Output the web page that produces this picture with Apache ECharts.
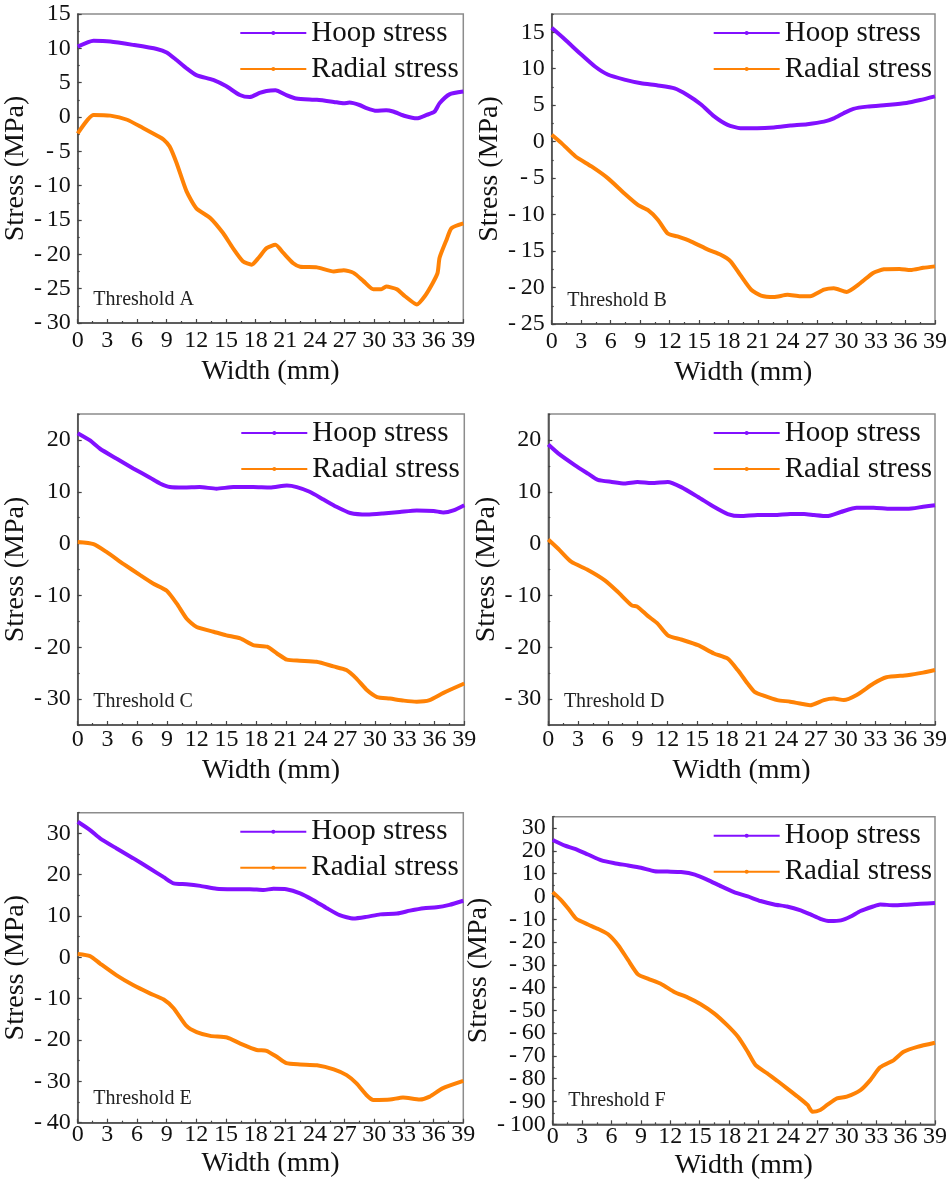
<!DOCTYPE html>
<html>
<head>
<meta charset="utf-8">
<script src="https://cdn.jsdelivr.net/npm/echarts@6/dist/echarts.min.js"></script>
<style>
  html, body { margin: 0; padding: 0; background: #fff; }
  #chart { width: 950px; height: 1186px; }
</style>
</head>
<body>
<div id="chart"></div>
<script>
// Stress profiles across the specimen width, [width (mm), stress (MPa)]
const hoopA = [[0,10.25],[1.6,11.1],[3.3,11.0],[5.6,10.5],[8,9.9],[9,9.4],[10,8.3],[11,7.1],[12,6.1],[13.7,5.4],[15,4.5],[16.4,3.2],[17.4,2.9],[18.4,3.5],[19.1,3.8],[20,3.9],[21.1,3.2],[22.1,2.7],[24.2,2.5],[25.9,2.2],[26.9,2.0],[27.5,2.1],[28.5,1.75],[29.2,1.3],[30.2,0.9],[31.2,1.0],[31.9,0.8],[33.1,0.15],[34.3,-0.2],[35.3,0.3],[36.1,0.8],[36.6,2.0],[37.6,3.3],[39,3.7]];
const radialA = [[0,-2.4],[1.6,0.3],[3.3,0.2],[5,-0.4],[6.6,-1.6],[8,-2.7],[8.7,-3.3],[9.3,-4.3],[10,-6.7],[11,-10.8],[12,-13.3],[13.4,-14.7],[14.7,-16.9],[15.7,-19.1],[16.7,-21.0],[17.6,-21.5],[18.3,-20.5],[19.1,-19.1],[20,-18.6],[20.8,-19.8],[21.8,-21.3],[22.5,-21.8],[24.2,-21.9],[25.9,-22.5],[26.9,-22.3],[27.9,-22.7],[28.9,-23.9],[29.9,-25.1],[30.7,-25.1],[31.2,-24.7],[32.3,-25.1],[33.1,-26.1],[34.3,-27.3],[35.1,-26.1],[35.9,-24.2],[36.4,-22.7],[36.6,-20.5],[37.3,-17.9],[37.8,-16.2],[39,-15.5]];

const hoopB = [[0,15.6],[1.35,14.0],[3.04,11.9],[4.4,10.3],[5.7,9.2],[7.4,8.5],[9.1,8.0],[10.8,7.7],[12.5,7.3],[13.8,6.4],[15.2,5.1],[16.5,3.5],[17.9,2.3],[19.2,1.85],[20.9,1.85],[22.6,1.95],[24.3,2.2],[26,2.4],[27.7,2.75],[28.7,3.2],[29.7,3.9],[30.7,4.5],[32.1,4.8],[34.4,5.05],[36.1,5.3],[37.5,5.7],[39,6.2]];
const radialB = [[0,0.95],[1,-0.2],[2.4,-2.0],[4.05,-3.4],[5.7,-5.0],[7.4,-7.1],[8.8,-8.7],[9.8,-9.4],[10.8,-10.7],[11.8,-12.6],[12.8,-13.0],[14.2,-13.7],[15.9,-14.8],[17.2,-15.5],[18.2,-16.4],[19.2,-18.3],[20.3,-20.3],[21.3,-21.1],[22.6,-21.3],[24,-21.0],[25.3,-21.2],[26.3,-21.2],[27.7,-20.3],[28.7,-20.1],[30,-20.6],[31.4,-19.4],[32.7,-18.0],[33.8,-17.5],[35.4,-17.45],[36.5,-17.6],[37.8,-17.3],[39,-17.1]];

const hoopC = [[0,21.3],[1.24,19.9],[2.25,18.3],[3.9,16.4],[5.6,14.5],[7.3,12.7],[8.3,11.6],[9.3,10.9],[10.7,10.8],[12.3,10.9],[14,10.6],[15.7,10.9],[17.7,10.9],[19.4,10.8],[21.1,11.2],[22.1,10.9],[23.4,10.0],[24.8,8.5],[26.1,7.1],[27.5,5.9],[29.2,5.6],[30.8,5.8],[32.5,6.1],[34.2,6.4],[35.9,6.3],[36.9,6.0],[37.9,6.4],[39,7.4]];
const radialC = [[0,0.3],[1.6,-0.1],[2.9,-1.6],[4.6,-3.9],[6.3,-6.1],[7.6,-7.7],[8.98,-9.1],[10,-11.6],[11,-14.5],[12,-16.1],[13.7,-17.0],[15,-17.7],[16.4,-18.3],[17.7,-19.6],[19.1,-19.9],[20.1,-21.2],[21.1,-22.4],[22.4,-22.6],[24.1,-22.8],[25.8,-23.7],[27.1,-24.4],[28.1,-26.0],[29.2,-28.3],[30.2,-29.6],[31.5,-29.9],[32.9,-30.3],[34.2,-30.5],[35.5,-30.2],[36.9,-28.8],[39,-27.0]];

const hoopD = [[0,19.1],[1,17.4],[2.7,15.1],[4,13.5],[5,12.3],[6.4,11.9],[7.7,11.6],[9,11.9],[10.4,11.7],[12.05,11.9],[13.4,10.9],[15.1,9.0],[16.7,7.1],[18.1,5.7],[19.4,5.3],[21.1,5.5],[22.8,5.5],[24.4,5.7],[25.8,5.7],[26.8,5.5],[28.1,5.3],[29.5,6.1],[31.1,6.9],[32.8,6.9],[34.5,6.7],[36.2,6.7],[37.8,7.1],[39,7.4]];
const radialD = [[0,0.8],[1,-1.0],[2.3,-3.5],[4,-5.1],[5.7,-7.1],[7,-9.3],[8.4,-11.9],[9,-12.2],[10,-13.9],[11,-15.4],[12.05,-17.7],[13.4,-18.5],[15.1,-19.6],[16.7,-21.2],[18.1,-22.2],[19.1,-24.4],[20.1,-27.0],[20.8,-28.6],[21.8,-29.4],[23.1,-30.2],[24.4,-30.5],[25.8,-31.0],[26.4,-31.2],[27.8,-30.2],[28.8,-29.9],[29.8,-30.2],[31.1,-29.2],[32.8,-27.0],[34.1,-25.8],[36.2,-25.4],[37.8,-24.9],[39,-24.4]];

const hoopE = [[0,32.8],[1.25,30.8],[2.26,28.8],[3.9,26.4],[5.6,24.0],[7.3,21.5],[8.7,19.4],[9.7,17.9],[11,17.7],[12.4,17.3],[14.05,16.6],[15.7,16.5],[17.4,16.5],[18.8,16.3],[19.8,16.6],[21.1,16.5],[22.5,15.5],[23.8,13.9],[25.2,11.9],[26.5,10.2],[27.9,9.4],[29.2,9.8],[30.6,10.4],[32.3,10.6],[33.6,11.3],[35,11.9],[36.3,12.1],[37.6,12.7],[39,13.7]];
const radialE = [[0,0.8],[1.25,0.3],[2.26,-1.5],[3.9,-4.3],[5.6,-6.7],[7.3,-8.7],[8.7,-10.2],[9.7,-12.3],[11,-16.6],[12.03,-18.1],[13.4,-19.0],[15.1,-19.4],[16.4,-20.8],[18.1,-22.4],[19.1,-22.6],[20.1,-24.0],[21.1,-25.6],[22.5,-25.9],[24.2,-26.1],[25.9,-27.1],[27.2,-28.5],[28.2,-30.5],[29.2,-33.3],[29.9,-34.5],[31.6,-34.4],[32.9,-33.9],[34.6,-34.4],[35.6,-33.7],[36.9,-31.7],[39,-29.9]];

const hoopF = [[0,24.8],[1.25,22.3],[2.27,20.9],[3.6,18.4],[4.98,15.8],[6.3,14.6],[7.7,13.6],[9,12.6],[10.4,11.1],[11.7,10.9],[13.1,10.7],[14.5,9.6],[15.8,7.3],[17.2,4.4],[18.5,1.9],[19.9,0],[21.2,-2.0],[22.6,-3.5],[23.9,-4.4],[25.3,-6.1],[26.3,-7.9],[27.3,-9.8],[28.3,-10.8],[29.4,-10.5],[30.4,-8.8],[31.4,-6.4],[32.7,-4.4],[33.4,-3.5],[34.8,-3.9],[36.1,-3.6],[37.5,-3.2],[39,-2.9]];
const radialF = [[0,1.9],[0.9,-1.8],[1.6,-5.4],[2.4,-9.8],[3.6,-12.3],[4.6,-14.2],[5.65,-16.6],[6.7,-21.5],[7.7,-28.0],[8.7,-34.2],[9.7,-36.1],[11.1,-38.5],[12.4,-41.9],[13.8,-44.4],[15.1,-47.3],[16.5,-51.4],[17.8,-56.5],[18.9,-61.6],[19.9,-68.2],[20.7,-74.0],[21.9,-77.7],[22.9,-80.9],[23.9,-84.2],[25,-87.9],[26,-91.5],[26.5,-94.5],[27.3,-93.7],[28,-91.5],[29,-88.6],[30,-87.9],[31.4,-85.0],[32.4,-80.6],[33.4,-75.0],[34.8,-71.8],[35.8,-68.2],[37.2,-66.0],[39,-64.2]];

// Labelled stress ticks for each panel
const yTicksA = [-30,-25,-20,-15,-10,-5,0,5,10,15];
const yTicksB = [-25,-20,-15,-10,-5,0,5,10,15];
const yTicksC = [-30,-20,-10,0,10,20];
const yTicksD = [-30,-20,-10,0,10,20];
const yTicksE = [-40,-30,-20,-10,0,10,20,30];
const yTicksF = [-100,-90,-80,-70,-60,-50,-40,-30,-20,-10,0,10,20,30];

const seriesNames = ['Hoop stress', 'Radial stress'];
const panelLabels = ['Threshold A','Threshold B','Threshold C','Threshold D','Threshold E','Threshold F'];

const FONT = "'Liberation Serif', 'Times New Roman', serif";
const HOOP_COLOR = '#8210ff';
const RADIAL_COLOR = '#ff8205';

// Panel layout (pixel boxes of the plot areas) and axis ranges
const panels = [
  { hoop: hoopA, radial: radialA, ticks: yTicksA, yMin: -30, yMax: 15,   minor: 2.5, box: [77.7, 14, 463.3, 323],    xMargin: 6, xGap: 35, yGap: 45 },
  { hoop: hoopB, radial: radialB, ticks: yTicksB, yMin: -25, yMax: 17.5, minor: 2.5, box: [551.7, 14, 936.7, 324],   xMargin: 6, xGap: 35, yGap: 46 },
  { hoop: hoopC, radial: radialC, ticks: yTicksC, yMin: -35, yMax: 25,   minor: 5,   box: [77.7, 414, 464.3, 725],   xMargin: 3, xGap: 32, yGap: 44 },
  { hoop: hoopD, radial: radialD, ticks: yTicksD, yMin: -35, yMax: 25,   minor: 5,   box: [548.3, 414, 936.7, 725],  xMargin: 3, xGap: 32, yGap: 44 },
  { hoop: hoopE, radial: radialE, ticks: yTicksE, yMin: -40, yMax: 35,   minor: 5,   box: [77.7, 812.7, 463.3, 1122.7], xMargin: 0, xGap: 27, yGap: 45 },
  { hoop: hoopF, radial: radialF, ticks: yTicksF, yMin: -100, yMax: 35,  minor: 5,   box: [552.7, 816.7, 936.7, 1124.3], xMargin: 0, xGap: 27, yGap: 48 }
];

const fmtY = v => (v < 0 ? '-\u2009' + Math.abs(v) : String(v));
const yLabelStyle = { fontFamily: FONT, fontSize: 24, color: '#111', margin: 7, formatter: fmtY, showMinLabel: true, showMaxLabel: true, hideOverlap: false };

const grid = [], xAxis = [], yAxis = [], series = [], legend = [], graphic = [];

panels.forEach((p, i) => {
  const [l, t, r, b] = p.box;
  // alternate labels are split across two overlaid axes so tightly packed labels all stay visible
  const labelsEven = p.ticks.filter((_, k) => k % 2 === 0);
  const labelsOdd = p.ticks.filter((_, k) => k % 2 === 1);
  grid.push({
    left: l, top: t, width: r - l, height: b - t,
    show: true, borderColor: '#8c8c8c', borderWidth: 1.5, backgroundColor: 'transparent'
  });
  xAxis.push({
    type: 'value', gridIndex: i, min: 0, max: 39, interval: 3,
    name: 'Width (mm)', nameLocation: 'middle', nameGap: p.xGap,
    nameTextStyle: { fontFamily: FONT, fontSize: 28, color: '#111' },
    axisLine: { show: true, onZero: false, lineStyle: { color: '#444', width: 1.5 } },
    axisTick: { show: true, inside: true, length: 4, lineStyle: { color: '#444', width: 1.2 } },
    minorTick: { show: true, splitNumber: 2, length: 2, lineStyle: { color: '#444', width: 1.2 } },
    axisLabel: { fontFamily: FONT, fontSize: 24, color: '#111', margin: p.xMargin, showMinLabel: true, showMaxLabel: true },
    splitLine: { show: false }
  });
  // main stress axis: line, major ticks, every other label
  yAxis.push({
    type: 'value', gridIndex: i, position: 'left', min: p.yMin, max: p.yMax, interval: p.minor,
    name: 'Stress (MPa)', nameLocation: 'middle', nameGap: p.yGap,
    nameTextStyle: { fontFamily: FONT, fontSize: 28, color: '#111' },
    axisLine: { show: true, onZero: false, lineStyle: { color: '#444', width: 1.5 } },
    axisTick: { show: true, inside: true, length: 4, customValues: p.ticks, lineStyle: { color: '#444', width: 1.2 } },
    axisLabel: Object.assign({ customValues: labelsEven }, yLabelStyle),
    splitLine: { show: false }
  });
  // companion axis: short in-between ticks and the remaining labels
  yAxis.push({
    type: 'value', gridIndex: i, position: 'left', min: p.yMin, max: p.yMax, interval: p.minor,
    axisLine: { show: false },
    axisTick: { show: true, inside: true, length: 2, lineStyle: { color: '#444', width: 1.2 } },
    axisLabel: Object.assign({ customValues: labelsOdd }, yLabelStyle),
    splitLine: { show: false }
  });
  [[seriesNames[0], p.hoop, HOOP_COLOR], [seriesNames[1], p.radial, RADIAL_COLOR]].forEach(([name, data, color]) => {
    series.push({
      name, type: 'line', xAxisIndex: i, yAxisIndex: 2 * i, data,
      symbol: 'circle', showSymbol: false, smooth: 0.2,
      lineStyle: { color, width: 4 }, itemStyle: { color },
      emphasis: { disabled: true }, z: 3
    });
  });
  legend.push({
    orient: 'vertical', left: r - 224, top: t + 4.5, padding: 0,
    itemWidth: 66, itemHeight: 5, itemGap: 7,
    data: seriesNames, selectedMode: false,
    lineStyle: { width: 2 },
    textStyle: { fontFamily: FONT, fontSize: 29, color: '#111', lineHeight: 29 }
  });
  graphic.push({
    type: 'text', x: l + 15.6, y: b - 23.5,
    style: { text: panelLabels[i], fontFamily: FONT, fontSize: 20, fill: '#222', verticalAlign: 'middle', align: 'left' }
  });
});

const chart = echarts.init(document.getElementById('chart'), null, { renderer: 'canvas' });
chart.setOption({
  backgroundColor: '#fff',
  animation: false,
  grid, xAxis, yAxis, series, legend, graphic
});
</script>
</body>
</html>
